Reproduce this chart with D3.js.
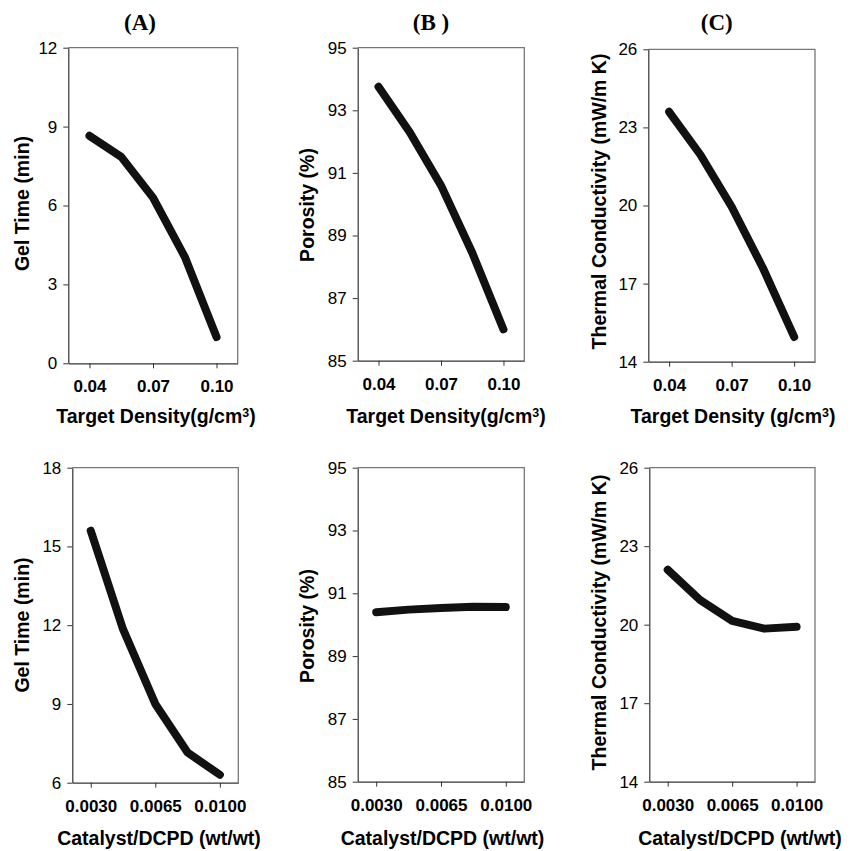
<!DOCTYPE html>
<html>
<head>
<meta charset="utf-8">
<script src="https://cdn.jsdelivr.net/npm/d3@7"></script>
<style>
  body { margin: 0; background: #fff; }
  svg { display: block; }
  .tick text { fill: #000; }
</style>
</head>
<body>
<svg id="grafica" width="856" height="851"></svg>
<script>
// ================= DATOS =================
const densidadX = [0.04, 0.055, 0.07, 0.085, 0.10];
const catalizadorX = [0.003, 0.00475, 0.0065, 0.00825, 0.01];

const gelPorDensidad = [8.65, 7.85, 6.3, 4.05, 1.0];
const porosidadPorDensidad = [93.75, 92.3, 90.6, 88.45, 86.0];
const conductividadPorDensidad = [23.6, 21.95, 19.95, 17.6, 14.95];

const gelPorCatalizador = [15.6, 11.85, 9.0, 7.15, 6.3];
const porosidadPorCatalizador = [90.4, 90.48, 90.53, 90.57, 90.56];
const conductividadPorCatalizador = [22.1, 20.95, 20.15, 19.85, 19.92];

const ticksDensidad = [0.04, 0.07, 0.10];
const etiquetasDensidad = ["0.04", "0.07", "0.10"];
const ticksCatalizador = [0.003, 0.0065, 0.01];
const etiquetasCatalizador = ["0.0030", "0.0065", "0.0100"];

const ticksGelArriba = [0, 3, 6, 9, 12];
const ticksGelAbajo = [6, 9, 12, 15, 18];
const ticksPorosidad = [85, 87, 89, 91, 93, 95];
const ticksConductividad = [14, 17, 20, 23, 26];

const titulosPanel = ["(A)", "(B )", "(C)"];

// ================= PANELES =================
// caja: [izq, der, arriba, abajo]; ty: [x base, centro y] del titulo Y; tx: [centro x, base y] del titulo X
const paneles = [
  { x: densidadX, y: gelPorDensidad, xDom: [0.03, 0.11], yTicks: ticksGelArriba,
    xTicks: ticksDensidad, xEtiq: etiquetasDensidad, yTitulo: "Gel Time (min)", xTitulo: "dens",
    caja: [68.3, 237.7, 47.7, 363.3], ty: [29, 203.5], tx: [156, 423] },
  { x: densidadX, y: porosidadPorDensidad, xDom: [0.03, 0.11], yTicks: ticksPorosidad,
    xTicks: ticksDensidad, xEtiq: etiquetasDensidad, yTitulo: "Porosity (%)", xTitulo: "dens",
    caja: [357.7, 524.3, 47.7, 360.7], ty: [314, 205], tx: [446, 423] },
  { x: densidadX, y: conductividadPorDensidad, xDom: [0.03, 0.11], yTicks: ticksConductividad,
    xTicks: ticksDensidad, xEtiq: etiquetasDensidad, yTitulo: "Thermal Conductivity (mW/m K)", xTitulo: "dens2",
    caja: [648.3, 815, 49.3, 361.7], ty: [606, 201.5], tx: [733, 423] },
  { x: catalizadorX, y: gelPorCatalizador, xDom: [0.002, 0.011], yTicks: ticksGelAbajo,
    xTicks: ticksCatalizador, xEtiq: etiquetasCatalizador, yTitulo: "Gel Time (min)", xTitulo: "cat",
    caja: [72.3, 238.3, 467.7, 782.7], ty: [29, 625], tx: [159, 845] },
  { x: catalizadorX, y: porosidadPorCatalizador, xDom: [0.002, 0.011], yTicks: ticksPorosidad,
    xTicks: ticksCatalizador, xEtiq: etiquetasCatalizador, yTitulo: "Porosity (%)", xTitulo: "cat",
    caja: [357.7, 524.3, 467.7, 781.7], ty: [314, 626], tx: [442.5, 845] },
  { x: catalizadorX, y: conductividadPorCatalizador, xDom: [0.002, 0.011], yTicks: ticksConductividad,
    xTicks: ticksCatalizador, xEtiq: etiquetasCatalizador, yTitulo: "Thermal Conductivity (mW/m K)", xTitulo: "cat",
    caja: [649.3, 815, 467.7, 781.7], ty: [606, 622.5], tx: [740, 845] }
];

const centrosTitulo = [140, 431, 716.7];

const svg = d3.select("#grafica");
const sans = "'Liberation Sans', Arial, Helvetica, sans-serif";

// TITULOS (A) (B) (C)
svg.selectAll("text.titulo")
  .data(titulosPanel)
  .enter()
  .append("text")
  .attr("class", "titulo")
  .attr("x", (d, i) => centrosTitulo[i])
  .attr("y", 30)
  .attr("text-anchor", "middle")
  .style("font-family", "'Liberation Serif', 'Times New Roman', serif")
  .style("font-weight", "bold")
  .style("font-size", "23px")
  .text(d => d);

paneles.forEach(p => {
  const [x0, x1, y0, y1] = p.caja;
  const xEsc = d3.scaleLinear().domain(p.xDom).range([x0, x1]);
  const yEsc = d3.scaleLinear().domain([p.yTicks[0], p.yTicks[p.yTicks.length - 1]]).range([y1, y0]);

  const g = svg.append("g");

  // marco superior y derecho
  g.append("path")
    .attr("d", `M${x0},${y0}H${x1}V${y1}`)
    .attr("fill", "none")
    .attr("stroke", "#777")
    .attr("stroke-width", 1.3);

  // EJE Y
  const ejeY = g.append("g")
    .attr("transform", `translate(${x0},0)`)
    .call(d3.axisLeft(yEsc).tickValues(p.yTicks).tickSize(5).tickPadding(6).tickSizeOuter(0));
  ejeY.selectAll("text").style("font-family", sans).style("font-size", "17px");

  // EJE X
  const ejeX = g.append("g")
    .attr("transform", `translate(0,${y1})`)
    .call(d3.axisBottom(xEsc).tickValues(p.xTicks).tickSize(5).tickPadding(12).tickSizeOuter(0)
      .tickFormat((d, i) => p.xEtiq[i]));
  ejeX.selectAll("text").style("font-family", sans).style("font-size", "17px").style("font-weight", "bold");

  g.selectAll(".domain").attr("stroke", "#333").attr("stroke-width", 1.2);
  g.selectAll(".tick line").attr("stroke", "#333");

  // LINEA
  const linea = d3.line()
    .x((d, i) => xEsc(p.x[i]))
    .y(d => yEsc(d));

  g.append("path")
    .datum(p.y)
    .attr("d", linea)
    .attr("fill", "none")
    .attr("stroke", "#111")
    .attr("stroke-width", 8)
    .attr("stroke-linecap", "round")
    .attr("stroke-linejoin", "round");

  // TITULO Y
  g.append("text")
    .attr("transform", `translate(${p.ty[0]},${p.ty[1]}) rotate(-90)`)
    .attr("text-anchor", "middle")
    .style("font-family", sans)
    .style("font-weight", "bold")
    .style("font-size", "19.5px")
    .text(p.yTitulo);

  // TITULO X
  const tx = g.append("text")
    .attr("x", p.tx[0])
    .attr("y", p.tx[1])
    .attr("text-anchor", "middle")
    .style("font-family", sans)
    .style("font-weight", "bold")
    .style("font-size", "19.5px");

  if (p.xTitulo === "cat") {
    tx.text("Catalyst/DCPD (wt/wt)");
  } else {
    tx.append("tspan").text(p.xTitulo === "dens2" ? "Target Density (g/cm" : "Target Density(g/cm");
    tx.append("tspan").attr("dy", "-0.45em").style("font-size", "12.5px").text("3");
    tx.append("tspan").attr("dy", "0.29em").text(")");
  }
});
</script>
</body>
</html>
